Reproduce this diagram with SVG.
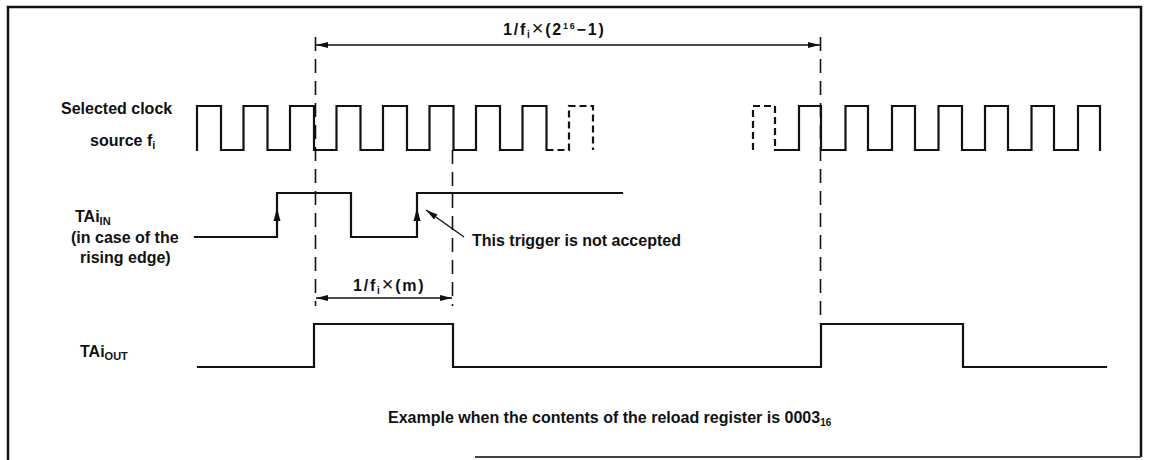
<svg xmlns="http://www.w3.org/2000/svg" width="1149" height="460" viewBox="0 0 1149 460">
<style>
.t{font-family:"Liberation Sans",Arial,Helvetica,sans-serif;font-weight:bold;font-size:16px;fill:#111}
.m{letter-spacing:1.8px;font-size:16px}
.x{font-size:20px;font-weight:normal}
.w{fill:none;stroke:#111;stroke-width:2.2;stroke-linejoin:miter;stroke-linecap:square}
.wd{fill:none;stroke:#111;stroke-width:2.2;stroke-dasharray:7 4}
.dash{fill:none;stroke:#111;stroke-width:1.6;stroke-dasharray:14 8}
.dim{fill:none;stroke:#111;stroke-width:1.3}
.ah{fill:#111}
.frame{fill:none;stroke:#111;stroke-width:2.5}
</style>
<defs>
<marker id="arr" viewBox="0 0 12 6" refX="12" refY="3" markerWidth="12" markerHeight="6" markerUnits="userSpaceOnUse" orient="auto-start-reverse">
<path d="M0,0 L12,3 L0,6 z" fill="#111"/>
</marker>
</defs>
<rect width="1149" height="460" fill="#fff"/>
<g id="frame">
<path class="frame" d="M8,460 V7 H1141 V457"/>
<path d="M475,457 H1141" stroke="#444" stroke-width="2" fill="none"/>
</g>
<g id="clock">
<text class="t" x="61" y="114">Selected clock</text>
<text class="t" x="90" y="146">source f<tspan font-size="11" dy="3">i</tspan></text>
<path class="w" d="M197,150 V106 H221 V150 H243.5 V106 H267.5 V150 H290 V106 H314 V150 H336.5 V106 H360.5 V150 H383 V106 H407 V150 H429.5 V106 H453.5 V150 H476 V106 H500 V150 H522.5 V106 H546.5 V150"/>
<path class="wd" d="M546.5,150 H569 V106 H593 V150"/>
<path class="wd" d="M753,150 V106 H775 V150"/>
<path class="w" d="M775,150 H799 V106 H821 V150 H845.5 V106 H868 V150 H892 V106 H915 V150 H938.5 V106 H962 V150 H985 V106 H1008 V150 H1031.5 V106 H1054 V150 H1078 V106 H1100 V150"/>
</g>
<g id="tai-in">
<text class="t" x="75" y="222">TAi<tspan font-size="11" dy="3">IN</tspan></text>
<text class="t" x="71" y="243">(in case of the</text>
<text class="t" x="80" y="263">rising edge)</text>
<path class="w" d="M195,237 H277 V193 H351 V237 H417 V193 H622"/>
<polygon class="ah" points="277,208 273.5,221 280.5,221"/>
<polygon class="ah" points="417,208 413.5,221 420.5,221"/>
</g>
<g id="tai-out">
<text class="t" x="80" y="357">TAi<tspan font-size="11" dy="3">OUT</tspan></text>
<path class="w" d="M198,367 H314 V324 H453 V367 H821 V324 H963 V367 H1106"/>
</g>
<g id="note">
<text class="t" x="472" y="246">This trigger is not accepted</text>
</g>
<g id="caption">
<text class="t" x="388" y="423">Example when the contents of the reload register is 0003<tspan font-size="10" dy="3">16</tspan></text>
</g>
<g id="connectors">
<path class="dash" d="M315.5,37 V306"/>
<path class="dash" d="M452.5,150 V306"/>
<path class="dash" d="M820.5,37 V324"/>
<line class="dim" x1="316" y1="45" x2="820" y2="45" marker-start="url(#arr)" marker-end="url(#arr)"/>
<line class="dim" x1="316" y1="298" x2="452" y2="298" marker-start="url(#arr)" marker-end="url(#arr)"/>
<line class="dim" x1="464" y1="237" x2="426" y2="210" marker-end="url(#arr)"/>
<text class="t m" x="503" y="35">1/f<tspan font-size="10" dy="3">i</tspan><tspan class="x" dy="-3">×</tspan><tspan>(2</tspan><tspan font-size="9" dy="-6">16</tspan><tspan dy="6">−1)</tspan></text>
<text class="t m" x="353" y="291">1/f<tspan font-size="10" dy="3">i</tspan><tspan class="x" dy="-3">×</tspan><tspan>(m)</tspan></text>
</g>
</svg>
